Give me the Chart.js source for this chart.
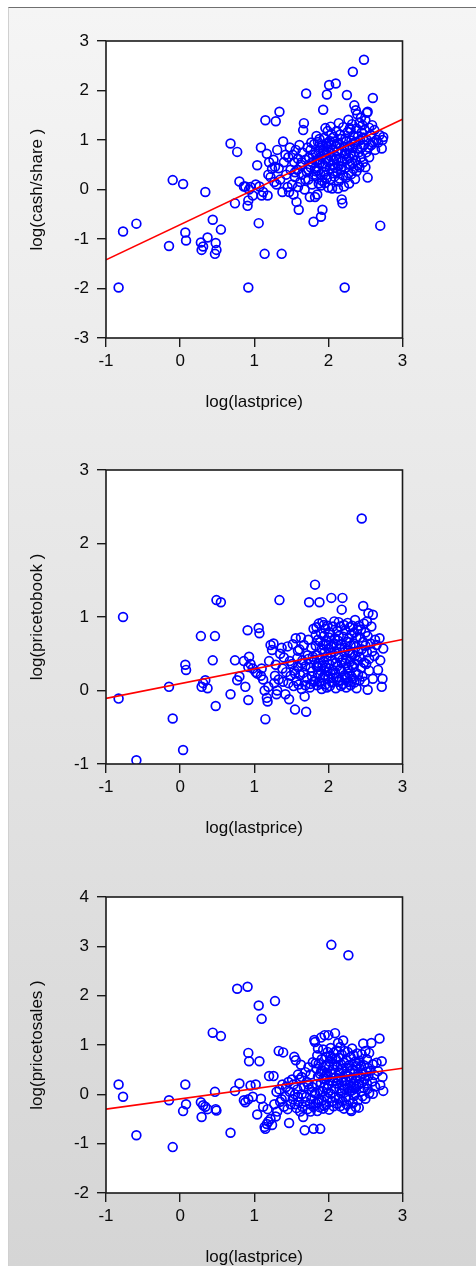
<!DOCTYPE html>
<html>
<head>
<meta charset="utf-8">
<script src="https://cdn.jsdelivr.net/npm/chart.js@4.4.1/dist/chart.umd.min.js"></script>
<style>
  html, body { margin: 0; padding: 0; background: #ffffff; width: 476px; height: 1266px; overflow: hidden; }
  #panel {
    position: absolute; left: 8px; top: 7px; right: 0; bottom: 0;
    border-top: 1.5px solid #6f6f6f; border-left: 1px solid #d0d0d0;
    background: linear-gradient(#f5f5f5, #d5d5d5);
  }
  canvas { position: absolute; left: 0; }
</style>
</head>
<body>
<div id="panel"></div>
<canvas id="chartCash" width="476" height="430" style="top:0px"></canvas>
<canvas id="chartBook" width="476" height="430" style="top:429px"></canvas>
<canvas id="chartSales" width="476" height="430" style="top:856px"></canvas>
<script>
// log(lastprice) for every company, shared by the three panels
const lastPrice = [
  -0.83,-0.77,-0.59,-0.15,-0.10,0.04,0.07,0.08,0.28,0.29,0.34,0.37,0.31,0.44,0.48,0.49,0.47,0.55,0.68,0.74,
  0.77,0.80,0.86,0.88,0.91,0.92,0.93,0.92,0.95,0.98,
  1.02,1.04,1.06,1.07,1.09,1.10,1.12,1.14,1.15,1.17,1.18,1.19,1.20,
  1.22,1.24,1.26,1.27,1.28,1.29,1.30,1.31,1.33,1.34,1.35,1.37,1.38,1.39,1.40,1.42,1.43,1.45,1.46,1.47,1.48,1.49,
  1.51,1.52,1.53,1.54,1.55,1.56,1.57,1.58,1.59,1.60,1.61,1.62,1.63,1.64,1.65,1.66,1.67,1.68,1.69,1.70,
  1.71,1.72,1.73,1.74,1.75,1.76,1.77,1.78,1.79,1.80,1.80,1.78,1.76,1.73,1.69,1.64,1.59,1.55,
  1.81,1.82,1.82,1.83,1.84,1.84,1.85,1.85,1.86,1.86,1.87,1.87,1.88,1.88,1.89,1.89,1.90,1.90,1.91,1.91,
  1.92,1.92,1.93,1.93,1.94,1.94,1.95,1.95,1.96,1.96,1.97,1.97,1.98,1.98,1.99,1.99,2.00,2.00,2.01,2.01,
  2.02,2.02,2.03,2.03,2.04,2.04,2.05,2.05,2.06,2.06,2.07,2.07,2.08,2.08,2.09,2.09,2.10,2.10,
  1.83,1.86,1.90,1.94,1.97,2.00,2.03,
  2.11,2.11,2.12,2.12,2.13,2.13,2.14,2.14,2.15,2.15,2.16,2.16,2.17,2.17,2.18,2.18,2.19,2.19,2.20,2.20,
  2.21,2.21,2.22,2.22,2.23,2.23,2.24,2.24,2.25,2.25,2.26,2.26,2.27,2.27,2.28,2.28,2.29,2.29,2.30,2.30,
  2.31,2.31,2.32,2.32,2.33,2.33,2.34,2.34,2.35,2.35,2.36,2.36,2.37,2.37,2.38,2.38,2.39,2.39,2.40,2.40,
  2.14,2.18,2.23,2.29,2.35,
  2.41,2.42,2.42,2.43,2.44,2.44,2.45,2.45,2.46,2.47,2.47,2.48,2.48,2.49,2.50,2.50,2.51,2.52,2.52,2.53,
  2.53,2.54,2.55,2.55,2.57,2.58,2.59,2.60,2.60,2.62,2.63,2.65,2.67,2.69,2.70,2.72,2.73,2.74
];

// log(cash/share)
const cashPerShare = [
  -1.98,-0.85,-0.69,-1.14,0.19,0.11,-0.87,-1.03,-1.07,-1.22,-0.05,-0.97,-1.15,-0.61,-1.08,-1.22,-1.30,-0.81,0.93,-0.28,
  0.76,0.16,0.06,0.06,-0.33,-1.98,0.00,-0.22,0.05,-0.12,
  0.10,0.49,-0.68,0.06,0.85,-0.12,-0.05,-1.30,1.40,0.72,-0.12,0.30,0.55,
  0.25,0.42,0.60,0.15,0.46,1.38,0.10,0.80,0.43,1.57,0.20,-1.30,-0.05,0.97,0.55,0.70,0.30,0.05,0.65,-0.05,0.85,0.40,
  0.10,0.70,-0.10,0.55,0.25,0.80,-0.25,0.40,0.62,-0.41,0.90,0.15,0.50,0.30,0.75,1.20,1.34,0.00,0.60,1.94,
  0.35,0.85,0.20,0.65,-0.15,0.45,0.95,0.10,0.70,0.30,-0.65,0.55,0.80,0.40,0.20,0.55,0.05,0.35,
  0.92,0.43,-0.15,0.72,1.08,0.27,0.58,-0.10,0.96,0.38,0.77,0.12,0.53,1.02,0.31,0.84,-0.55,0.66,0.18,0.89,
  -0.41,0.52,1.61,0.79,0.36,1.04,0.13,0.71,1.24,0.47,0.93,0.62,1.92,0.23,0.86,1.18,0.56,0.04,2.11,0.74,
  0.42,0.98,0.67,0.21,0.91,1.12,0.49,0.02,0.81,0.33,1.06,0.59,0.26,0.97,0.68,0.44,2.14,0.87,
  0.37,0.61,0.08,0.76,0.29,0.94,1.27,
  0.62,1.18,0.36,0.93,0.02,0.77,1.34,0.48,0.91,0.22,1.11,0.63,0.41,1.02,-0.20,0.79,-0.28,0.57,1.26,0.28,
  0.86,0.06,-1.98,0.72,1.03,0.44,0.97,0.24,1.91,0.61,1.16,0.82,0.33,1.41,0.64,0.12,0.88,0.51,1.21,0.73,
  0.31,0.99,0.54,1.32,2.38,0.84,0.42,1.09,1.70,0.69,0.21,0.96,1.60,0.58,1.23,0.37,0.83,1.52,0.49,1.07,
  0.16,0.46,0.71,1.24,0.92,
  0.75,1.35,0.45,1.00,1.45,0.65,1.15,0.85,1.30,0.55,1.05,2.62,0.90,1.20,0.45,1.40,0.75,1.55,1.00,0.24,
  1.57,0.85,1.25,0.65,1.10,0.90,1.30,1.85,0.95,1.20,0.80,1.00,0.95,1.10,-0.73,0.83,1.00,1.06
];

// log(pricetobook)
const priceToBook = [
  -0.11,1.00,-0.95,0.05,-0.38,-0.81,0.35,0.28,0.74,0.05,0.14,0.03,0.10,0.41,-0.21,1.23,0.74,1.20,-0.05,0.41,
  0.14,0.19,0.40,0.05,0.82,-0.13,0.46,0.32,0.36,0.30,
  0.25,0.23,0.85,0.78,0.20,0.30,0.15,0.00,-0.39,-0.10,-0.15,0.05,0.40,
  0.62,0.55,0.64,0.10,0.20,0.35,-0.05,0.00,0.15,1.23,0.50,0.58,0.30,0.12,0.45,-0.05,0.25,0.60,0.10,-0.12,0.40,0.20,
  0.36,0.63,0.06,0.27,-0.26,0.71,0.13,0.44,0.32,0.08,0.56,0.21,0.72,0.02,0.41,0.24,0.62,-0.08,0.33,-0.29,
  0.17,0.48,0.69,1.20,0.04,0.31,0.58,0.19,0.46,0.84,0.12,0.26,0.09,0.43,0.07,0.37,0.54,0.23,
  0.42,1.44,0.13,0.61,0.33,0.86,0.07,0.48,0.22,0.69,0.91,0.37,1.20,0.12,0.66,0.43,0.27,0.78,0.02,0.56,
  0.34,0.93,0.18,0.62,0.39,0.74,0.21,0.52,0.84,0.08,0.31,0.67,0.46,0.04,0.88,0.26,0.57,0.16,0.72,0.36,
  0.79,0.06,0.51,0.23,1.26,0.59,0.41,0.11,0.87,0.28,0.64,0.17,0.53,0.94,0.24,0.71,0.38,0.03,
  0.76,0.32,0.09,0.89,0.63,0.19,0.47,
  0.62,0.18,0.81,0.33,0.12,0.68,0.46,0.93,0.14,0.57,0.29,0.87,0.06,0.63,1.10,0.26,1.26,0.42,0.73,0.09,
  0.89,0.52,0.21,0.58,0.37,0.82,0.04,0.44,0.66,0.17,0.92,0.31,0.54,0.12,0.71,0.23,0.86,0.39,0.07,0.61,
  0.19,0.77,0.34,0.88,0.49,0.16,0.64,0.32,0.79,0.11,0.47,0.96,0.24,0.59,0.03,0.72,0.41,0.83,0.22,0.53,
  0.74,0.38,0.18,0.51,0.36,
  0.88,0.46,0.14,0.72,0.31,0.83,2.34,0.56,0.19,1.15,0.66,0.38,0.91,0.12,0.61,0.79,0.36,0.52,0.94,0.01,
  0.74,1.05,0.43,0.27,0.64,0.87,0.53,1.03,0.16,0.47,0.69,0.62,0.28,0.71,0.41,0.05,0.16,0.57
];

// log(pricetosales)
const priceToSales = [
  0.20,-0.05,-0.83,-0.12,-1.07,-0.34,0.20,-0.20,-0.16,-0.46,-0.25,-0.30,-0.22,1.25,-0.30,-0.33,0.05,1.18,-0.78,0.07,
  2.14,0.22,-0.12,-0.16,2.18,0.84,0.67,-0.10,0.18,-0.05,
  0.20,-0.41,1.80,0.67,-0.09,1.53,-0.25,-0.66,-0.70,-0.60,-0.30,-0.55,0.37,
  -0.50,-0.62,0.37,-0.20,1.89,-0.45,0.05,-0.35,0.88,0.10,-0.15,-0.10,0.20,0.85,-0.25,-0.05,0.15,-0.30,0.25,-0.58,0.05,-0.20,
  0.30,-0.10,0.20,0.76,-0.20,0.69,-0.28,0.10,0.40,-0.15,0.30,-0.35,0.60,0.00,-0.25,-0.46,0.15,-0.73,0.45,-0.05,
  0.25,-0.30,0.55,0.10,-0.20,0.40,-0.10,0.15,0.65,-0.70,-0.25,0.05,-0.35,0.20,-0.15,0.35,-0.05,0.00,
  1.10,0.02,1.06,-0.18,0.52,0.21,0.79,-0.34,0.36,0.93,-0.11,0.62,0.08,-0.26,-0.70,0.41,1.15,0.23,0.71,-0.13,
  0.06,0.48,0.91,-0.29,0.32,0.14,1.20,-0.04,0.58,0.37,-0.21,0.76,0.12,0.44,-0.08,0.86,0.19,1.20,0.56,-0.31,
  0.28,0.66,0.01,0.94,3.03,0.42,-0.14,0.73,0.26,0.51,-0.24,0.84,0.11,0.61,1.24,-0.06,0.34,0.72,
  0.63,-0.16,0.46,-0.23,0.31,0.04,0.78,
  0.22,0.89,-0.19,0.56,1.04,0.31,-0.09,0.74,0.12,0.43,0.96,-0.24,0.61,0.02,0.33,0.81,-0.14,0.52,1.09,0.18,
  -0.29,0.64,0.11,0.88,0.41,-0.06,0.69,0.27,-0.21,0.54,0.13,0.86,2.82,0.37,-0.11,0.59,0.06,0.47,-0.31,0.76,
  -0.34,0.32,0.93,0.08,0.51,-0.18,0.21,0.79,-0.03,0.42,0.66,0.01,0.28,-0.26,0.57,0.16,0.83,0.36,-0.12,0.62,
  0.44,0.07,0.29,0.19,0.12,
  -0.27,0.21,0.68,0.36,0.06,0.57,0.24,0.81,-0.04,1.03,0.42,0.13,0.59,0.31,0.88,-0.09,0.46,0.22,0.71,0.11,
  0.54,0.37,0.84,0.02,0.48,1.04,0.26,0.01,0.61,0.39,0.16,0.64,0.47,1.13,0.19,0.67,0.35,0.07
];

// Fitted regression lines, evaluated at the ends of the x range
const fitX = [-1, 3];
const fitCash = [-1.42, 1.42];
const fitBook = [-0.107, 0.693];
const fitSales = [-0.30, 0.528];

// Tick values
const xTicks = [-1, 0, 1, 2, 3];
const cashTicks = [-3, -2, -1, 0, 1, 2, 3];
const bookTicks = [-1, 0, 1, 2, 3];
const salesTicks = [-2, -1, 0, 1, 2, 3, 4];

const TEXT = '#0a0a0a';
const FONT = { family: "'Liberation Sans', Arial, sans-serif", size: 17 };

// White plotting area and a dark frame around it
const framePlugin = {
  id: 'plotFrame',
  beforeDraw(chart) {
    const { ctx, chartArea: a } = chart;
    ctx.save();
    ctx.fillStyle = '#ffffff';
    ctx.fillRect(a.left, a.top, a.right - a.left, a.bottom - a.top);
    ctx.restore();
  },
  afterDraw(chart) {
    const { ctx, chartArea: a } = chart;
    ctx.save();
    ctx.strokeStyle = '#1a1a1a';
    ctx.lineWidth = 1.6;
    ctx.strokeRect(a.left, a.top, a.right - a.left, a.bottom - a.top);
    ctx.restore();
  }
};

function tickList(values) {
  return scale => { scale.ticks = values.map(v => ({ value: v })); };
}

function drawPanel(id, values, fit, yTicks, yTitle, padBottom) {
  const points = lastPrice.map((x, i) => ({ x, y: values[i] }));
  const fitLine = fitX.map((x, i) => ({ x, y: fit[i] }));
  const gridOpts = { drawOnChartArea: false, drawTicks: true, tickLength: 9, color: '#1a1a1a', lineWidth: 1.4 };
  new Chart(document.getElementById(id), {
    type: 'scatter',
    data: {
      datasets: [
        {
          type: 'line', data: fitLine, borderColor: '#ff0000', borderWidth: 1.6,
          pointRadius: 0, fill: false, showLine: true, tension: 0
        },
        {
          data: points, pointStyle: 'circle', pointRadius: 4.4, borderWidth: 1.7,
          borderColor: '#0000ff', backgroundColor: 'rgba(0,0,0,0)'
        }
      ]
    },
    options: {
      responsive: false, animation: false, devicePixelRatio: 1,
      layout: { padding: { left: 0, top: 41, right: 73.5, bottom: padBottom } },
      plugins: { legend: { display: false }, tooltip: { enabled: false } },
      scales: {
        x: {
          type: 'linear', min: xTicks[0], max: xTicks[xTicks.length - 1],
          afterBuildTicks: tickList(xTicks),
          afterFit: s => { s.height = 74.2; },
          grid: gridOpts, border: { display: false },
          ticks: { color: TEXT, font: FONT, padding: 4, maxRotation: 0, autoSkip: false },
          title: { display: true, text: 'log(lastprice)', color: TEXT, font: FONT, padding: 0 }
        },
        y: {
          type: 'linear', min: yTicks[0], max: yTicks[yTicks.length - 1],
          afterBuildTicks: tickList(yTicks),
          afterFit: s => { s.width = 106; },
          grid: gridOpts, border: { display: false },
          ticks: { color: TEXT, font: FONT, padding: 8, autoSkip: false },
          title: { display: true, text: yTitle, color: TEXT, font: FONT, padding: { top: 27, bottom: 0 } }
        }
      }
    },
    plugins: [framePlugin]
  });
}

drawPanel('chartCash', cashPerShare, fitCash, cashTicks, 'log(cash/share )', 430 - 338 - 74.2);
drawPanel('chartBook', priceToBook, fitBook, bookTicks, 'log(pricetobook )', 430 - 335 - 74.2);
drawPanel('chartSales', priceToSales, fitSales, salesTicks, 'log(pricetosales )', 430 - 337 - 74.2);
</script>
</body>
</html>
